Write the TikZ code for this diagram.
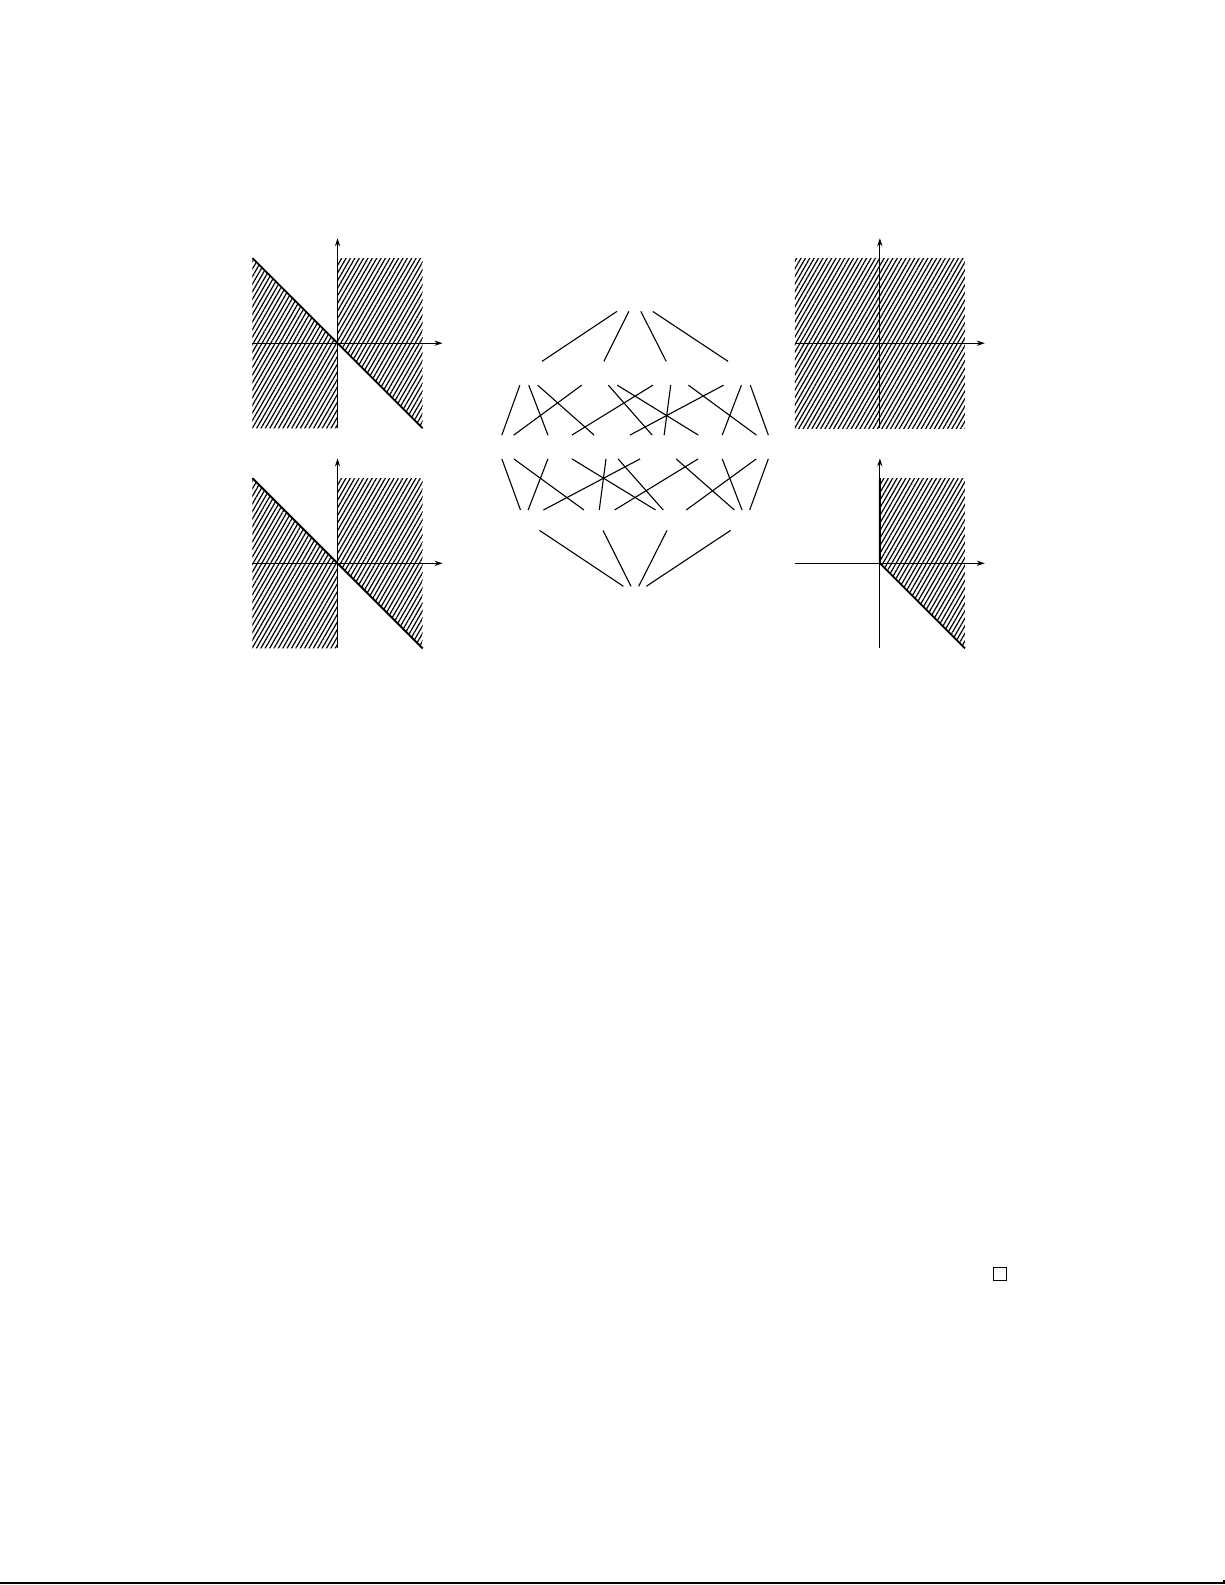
\documentclass[tikz,border=0pt]{standalone}
\usepackage{amsmath,amssymb}
\usepackage{tikz}
\usetikzlibrary{patterns.meta,arrows.meta}

\tikzset{
	hatch/.style={pattern={Lines[angle=60,distance=1.9pt,line width=0.6pt]}},
	axis/.style={-{Stealth[length=4pt,width=2.6pt]},line width=0.45pt},
	bound/.style={line width=0.9pt},
	vtx/.style={minimum width=1cm,minimum height=0.4cm,inner sep=0pt}
}

\begin{document}
\begin{tikzpicture}[line width=0.55pt]
	\useasboundingbox (0,0) rectangle (21.59,27.94);
	
	% top left
	\begin{scope}[shift={(5.95,21.89)}]
		\fill[hatch] (0,0) -- (0,1.5) -- (1.5,1.5) -- (1.5,-1.5) -- cycle;
		\fill[hatch] (0,0) -- (-1.5,1.5) -- (-1.5,-1.5) -- (0,-1.5) -- cycle;
		\draw[axis] (-1.5,0) -- (1.85,0);
		\draw[axis,bound] (0,-1.5) -- (0,1.85);
		\draw[bound] (-1.5,1.5) -- (1.5,-1.5);
	\end{scope}
	
	% bottom left
	\begin{scope}[shift={(5.95,18.01)}]
		\fill[hatch] (0,0) -- (0,1.5) -- (1.5,1.5) -- (1.5,-1.5) -- cycle;
		\fill[hatch] (0,0) -- (-1.5,1.5) -- (-1.5,-1.5) -- (0,-1.5) -- cycle;
		\draw[axis] (-1.5,0) -- (1.85,0);
		\draw[axis,bound] (0,-1.5) -- (0,1.85);
		\draw[bound] (-1.5,1.5) -- (1.5,-1.5);
	\end{scope}
	
	% top right
	\begin{scope}[shift={(15.51,21.89)}]
		\fill[hatch] (-1.5,-1.5) rectangle (1.5,1.5);
		\draw[axis] (-1.5,0) -- (1.85,0);
		\draw[axis] (0,-1.5) -- (0,1.85);
	\end{scope}
	
	% bottom right
	\begin{scope}[shift={(15.51,18.01)}]
		\fill[hatch] (0,0) -- (0,1.5) -- (1.5,1.5) -- (1.5,-1.5) -- cycle;
		\draw[axis] (-1.5,0) -- (1.85,0);
		\draw[axis] (0,-1.5) -- (0,1.85);
		\draw[bound] (0,1.5) -- (0,0) -- (1.5,-1.5);
	\end{scope}
	
	% lattice
	\node[vtx] (top) at (11.19,22.66) {};
	
	\node[vtx] (a) at (9.24,21.36) {};
	\node[vtx] (b) at (10.54,21.36) {};
	\node[vtx] (c) at (11.85,21.36) {};
	\node[vtx] (d) at (13.15,21.36) {};
	
	\node[vtx] (ab) at (8.77,20.06) {};
	\node[vtx] (ac) at (9.74,20.06) {};
	\node[vtx] (ad) at (10.71,20.06) {};
	\node[vtx] (bc) at (11.68,20.06) {};
	\node[vtx] (bd) at (12.65,20.06) {};
	\node[vtx] (cd) at (13.62,20.06) {};
	
	\node[vtx,minimum height=0.34cm] (abc) at (9.24,18.77) {};
	\node[vtx,minimum height=0.34cm] (abd) at (10.54,18.77) {};
	\node[vtx,minimum height=0.34cm] (acd) at (11.85,18.77) {};
	\node[vtx,minimum height=0.34cm] (bcd) at (13.15,18.77) {};
	
	\node[vtx,minimum height=0.25cm] (bot) at (11.19,17.47) {};
	
	\draw (top) -- (a);
	\draw (top) -- (b);
	\draw (top) -- (c);
	\draw (top) -- (d);
	
	\draw (a) -- (ab);
	\draw (a) -- (ac);
	\draw (a) -- (ad);
	\draw (b) -- (ab);
	\draw (b) -- (bc);
	\draw (b) -- (bd);
	\draw (c) -- (ac);
	\draw (c) -- (bc);
	\draw (c) -- (cd);
	\draw (d) -- (ad);
	\draw (d) -- (bd);
	\draw (d) -- (cd);
	
	\draw (ab) -- (abc);
	\draw (ab) -- (abd);
	\draw (ac) -- (abc);
	\draw (ac) -- (acd);
	\draw (ad) -- (abd);
	\draw (ad) -- (acd);
	\draw (bc) -- (abc);
	\draw (bc) -- (bcd);
	\draw (bd) -- (abd);
	\draw (bd) -- (bcd);
	\draw (cd) -- (acd);
	\draw (cd) -- (bcd);
	
	\draw (abc) -- (bot);
	\draw (abd) -- (bot);
	\draw (acd) -- (bot);
	\draw (bcd) -- (bot);
	
	% end mark and rule
	\draw[line width=0.5pt] (17.51,5.37) rectangle (17.74,5.60);
	\draw[line width=1pt] (0,0.03) -- (21.57,0.03) -- ++(0,0.06);
	
\end{tikzpicture}
\end{document}
